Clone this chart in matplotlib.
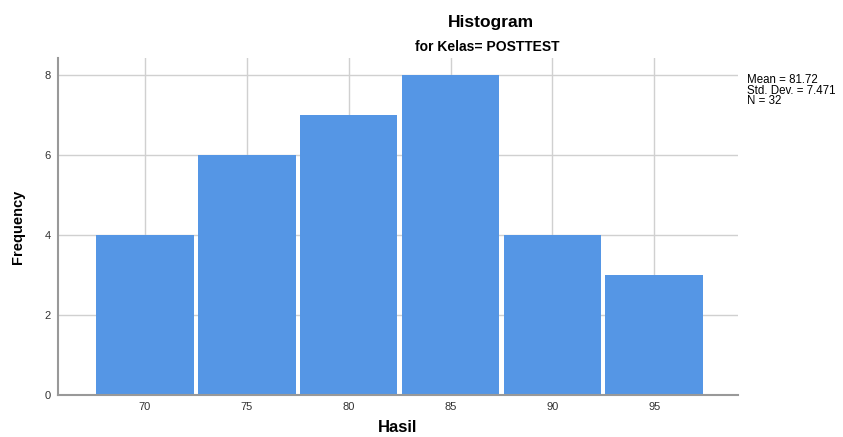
import matplotlib
matplotlib.use("Agg")
import matplotlib.pyplot as plt
import numpy as np

bin_edges = [67.5, 72.5, 77.5, 82.5, 87.5, 92.5, 97.5]
frequencies = [4, 6, 7, 8, 4, 3]
x_ticks = [70, 75, 80, 85, 90, 95]
y_ticks = [0, 2, 4, 6, 8]

plt.rcParams['font.family'] = ['Liberation Sans', 'DejaVu Sans']

fig = plt.figure(figsize=(8.43, 4.37), dpi=100)
ax = fig.add_axes([58/843, 1-395/437, (738-58)/843, (395-58)/437])

edges = np.array(bin_edges)
widths = np.diff(edges)
gap = 0.2
ax.bar(edges[:-1] + gap/2, frequencies, width=widths - gap, align='edge',
       color='#5596E5', edgecolor='none', zorder=3)

ax.set_xlim(65.75, 99.1)
ax.set_ylim(0, 8.42)
ax.set_xticks(x_ticks)
ax.set_yticks(y_ticks)
ax.tick_params(length=0, labelsize=8, colors='#333333', pad=5)
ax.grid(True, color='#d0d0d0', linewidth=1, zorder=0)
for s in ['top', 'right']:
    ax.spines[s].set_visible(False)
for s in ['left', 'bottom']:
    ax.spines[s].set_color('#999999')
    ax.spines[s].set_linewidth(1.5)
    ax.spines[s].set_zorder(4)

ax.set_ylabel('Frequency', fontsize=10.5, fontweight='bold', labelpad=14)
fig.text(398/843, 2/437, 'Hasil', ha='center', va='bottom', fontsize=12, fontweight='bold')

fig.text(491/843, 1-22/437, 'Histogram', ha='center', va='center', fontsize=12.5, fontweight='bold')
fig.text(487/843, 1-47/437, 'for Kelas= POSTTEST', ha='center', va='center', fontsize=10, fontweight='bold')
fig.text(747/843, 1-74/437, 'Mean = 81.72\nStd. Dev. = 7.471\nN = 32', ha='left', va='top',
         fontsize=8.3, linespacing=0.85)

fig.savefig('out.png', dpi=100)
